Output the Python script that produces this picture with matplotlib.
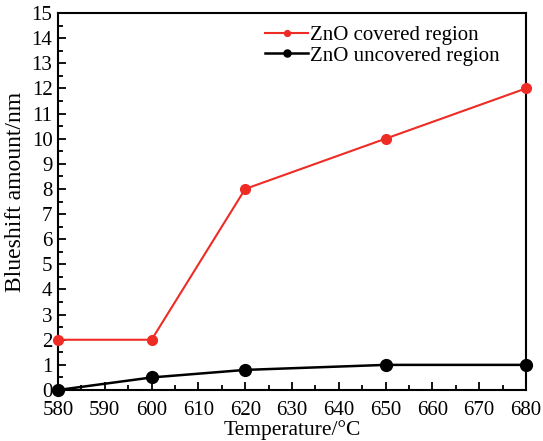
import numpy as np
import matplotlib
matplotlib.use("Agg")
import matplotlib.pyplot as plt
from matplotlib.ticker import MultipleLocator

plt.rcParams['font.family'] = ['Liberation Serif', 'DejaVu Serif']
plt.rcParams['mathtext.fontset'] = 'stix'

# blueshift vs annealing temperature
temperature = [580, 600, 620, 650, 680]
covered = [2, 2, 8, 10, 12]
uncovered = [0, 0.5, 0.8, 1, 1]

fig = plt.figure(figsize=(5.43, 4.41), dpi=100)
ax = fig.add_axes([0.1068, 0.1156, 0.8619, 0.8549])

ax.plot(temperature, covered, color='#ee2b24', lw=1.5, marker='o', ms=7,
        label='ZnO covered region', clip_on=False, zorder=3)
ax.plot(temperature, uncovered, color='black', lw=1.8, marker='o', ms=8.5,
        label='ZnO uncovered region', clip_on=False, zorder=3)

ax.set_xlim(580, 680)
ax.set_ylim(0, 15)
ax.xaxis.set_major_locator(MultipleLocator(10))
ax.xaxis.set_minor_locator(MultipleLocator(5))
ax.yaxis.set_major_locator(MultipleLocator(1))
ax.yaxis.set_minor_locator(MultipleLocator(0.5))
ax.tick_params(which='both', direction='in', top=False, right=False,
               width=1.3, labelsize=15)
ax.tick_params(axis='x', pad=8)
ax.tick_params(axis='y', pad=4)
ax.tick_params(which='major', length=6)
ax.tick_params(which='minor', length=3.5)
for s in ax.spines.values():
    s.set_linewidth(1.5)

ax.set_xlabel('Temperature/°C', fontsize=15.5, labelpad=0)
ax.set_ylabel('Blueshift amount/nm', fontsize=17)
ax.yaxis.set_label_coords(-0.068, 0.525)

ax.legend(loc='upper left', bbox_to_anchor=(0.415, 1.0), frameon=False,
          fontsize=15, handlelength=2.1, handletextpad=0.05, markerscale=0.6,
          labelspacing=0.05, borderaxespad=0.2)

fig.savefig('out.png', dpi=100)
